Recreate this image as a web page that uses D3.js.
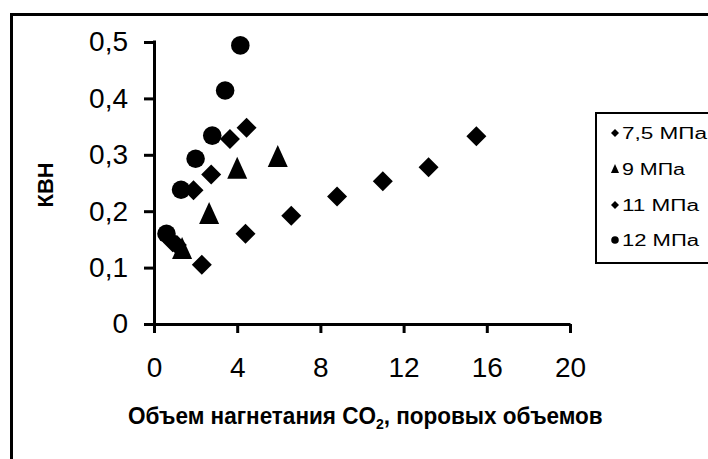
<!DOCTYPE html>
<html>
<head>
<meta charset="utf-8">
<script src="https://cdn.jsdelivr.net/npm/d3@7"></script>
<style>
  html, body { margin: 0; padding: 0; background: #fff; }
  svg { display: block; }
  text { font-family: "Liberation Sans", Arial, sans-serif; fill: #000; }
</style>
</head>
<body>
<svg id="chart" width="708" height="459"></svg>
<script>
// Injection volume of CO2 (pore volumes) vs. oil recovery factor, by pressure
const seriesNames = ["7,5 МПа", "9 МПа", "11 МПа", "12 МПа"];
const seriesShapes = ["diamond", "triangle", "diamond", "circle"];

const x75 = [0.9, 2.3, 4.4, 6.6, 8.8, 11.0, 13.2, 15.5];
const y75 = [0.145, 0.105, 0.16, 0.192, 0.226, 0.253, 0.278, 0.333];

const x9 = [1.35, 2.65, 4.0, 5.95];
const y9 = [0.133, 0.195, 0.275, 0.296];

const x11 = [1.1, 1.9, 2.75, 3.65, 4.45];
const y11 = [0.14, 0.237, 0.265, 0.328, 0.348];

const x12 = [0.6, 1.3, 2.0, 2.8, 3.42, 4.15];
const y12 = [0.16, 0.238, 0.293, 0.334, 0.414, 0.494];

const xTicks = [0, 4, 8, 12, 16, 20];
const yTicks = [0, 0.1, 0.2, 0.3, 0.4, 0.5];
const yTickLabels = ["0", "0,1", "0,2", "0,3", "0,4", "0,5"];

const xTitle = "Объем нагнетания CO";
const xTitleSub = "2";
const xTitleTail = ", поровых объемов";
const yTitle = "КВН";

const svg = d3.select("#chart");

// outer frame (top and left edges)
svg.append("path")
  .attr("d", "M11.5,470 V14.5 H720")
  .attr("fill", "none").attr("stroke", "#000").attr("stroke-width", 3);

const x = d3.scaleLinear().domain([0, 20]).range([154, 570]);
const y = d3.scaleLinear().domain([0, 0.5]).range([324, 42]);

// symbol generators
const shapes = {
  diamond: {
    draw(ctx, size) {
      const r = Math.sqrt(size / 2);
      ctx.moveTo(0, -r); ctx.lineTo(r, 0); ctx.lineTo(0, r); ctx.lineTo(-r, 0); ctx.closePath();
    }
  },
  triangle: {
    draw(ctx, size) {
      const w = Math.sqrt(size * 2 / 1.1) / 2, h = w * 2.2;
      ctx.moveTo(0, -h * 0.55); ctx.lineTo(w, h * 0.45); ctx.lineTo(-w, h * 0.45); ctx.closePath();
    }
  },
  circle: d3.symbolCircle
};
const sizes = { diamond: 200, triangle: 220, circle: 270 };

// axes
const yAxis = d3.axisLeft(y).tickValues(yTicks)
  .tickFormat((d, i) => yTickLabels[i]).tickSize(10).tickSizeOuter(0).tickPadding(16);
const xAxis = d3.axisBottom(x).tickValues(xTicks)
  .tickFormat(d => String(d)).tickSize(9).tickSizeOuter(0).tickPadding(24);

const gy = svg.append("g").attr("transform", "translate(154,0)").call(yAxis);
const gx = svg.append("g").attr("transform", "translate(0,324)").call(xAxis);
[gx, gy].forEach(g => {
  g.select(".domain").attr("stroke", "#000").attr("stroke-width", 3);
  g.selectAll(".tick line").attr("stroke", "#000").attr("stroke-width", 3);
  g.selectAll(".tick text").attr("font-size", 28).attr("fill", "#1a1a1a")
    .attr("font-family", "'Liberation Sans', Arial, sans-serif");
});
gy.select(".domain").attr("d", `M0.5,${y(0) + 1.5}V${y(0.5) - 1.5}`);

// data points
const seriesX = [x75, x9, x11, x12];
const seriesY = [y75, y9, y11, y12];
seriesNames.forEach((name, k) => {
  const shape = seriesShapes[k];
  const pts = seriesX[k].map((v, i) => [v, seriesY[k][i]]);
  svg.append("g").selectAll("path").data(pts).join("path")
    .attr("transform", d => `translate(${x(d[0])},${y(d[1])})`)
    .attr("d", d3.symbol(shapes[shape], sizes[shape]))
    .attr("fill", "#000");
});

// axis titles
const yt = svg.append("text")
  .attr("text-anchor", "middle")
  .attr("font-weight", "bold").attr("font-size", 22)
  .text(yTitle);
const ybb = yt.node().getBBox();
yt.attr("transform", `translate(53,185) rotate(-90) scale(${45 / ybb.width},1)`);

const xt = svg.append("text")
  .attr("font-weight", "bold").attr("font-size", 24)
  .attr("x", 0).attr("y", 0);
xt.append("tspan").text(xTitle);
xt.append("tspan").attr("font-size", 15).attr("dy", 5).text(xTitleSub);
xt.append("tspan").attr("dy", -5).text(xTitleTail);
const bb = xt.node().getBBox();
const sx = 475 / bb.width;
xt.attr("transform", `translate(128,424) scale(${sx},1)`);

// legend
const lg = svg.append("g");
lg.append("rect").attr("x", 596).attr("y", 113).attr("width", 140).attr("height", 150)
  .attr("fill", "#fff").attr("stroke", "#000").attr("stroke-width", 2);
const rowY = [133, 169, 205, 240];
const textW = [85, 63, 77, 77];
const legendSizes = { diamond: 32, triangle: 36, circle: 45 };
seriesNames.forEach((name, k) => {
  const shape = seriesShapes[k];
  lg.append("path")
    .attr("transform", `translate(615,${rowY[k]})`)
    .attr("d", d3.symbol(shapes[shape], legendSizes[shape]))
    .attr("fill", "#000");
  lg.append("text")
    .attr("x", 622).attr("y", rowY[k]).attr("dy", "0.36em")
    .attr("font-size", 16)
    .attr("textLength", textW[k]).attr("lengthAdjust", "spacingAndGlyphs")
    .text(name);
});
</script>
</body>
</html>
